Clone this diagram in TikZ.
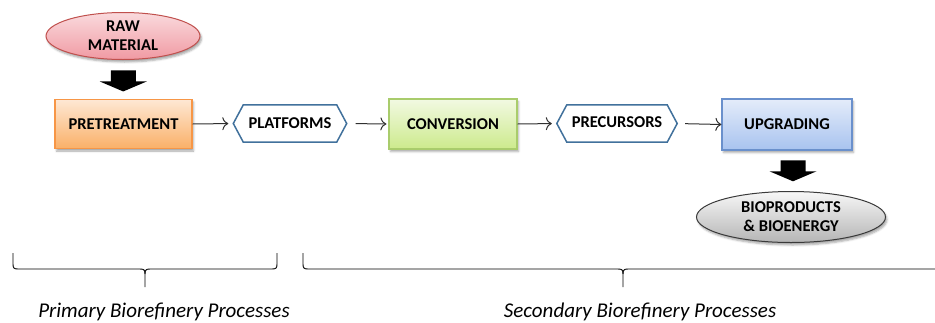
\documentclass[tikz,border=0pt]{standalone}
\usepackage{fontspec}
\setmainfont{Carlito}
\usetikzlibrary{shapes.geometric,shadows.blur,calc,arrows.meta}
\definecolor{rawtop}{HTML}{FADADD}
\definecolor{rawbot}{HTML}{F09AA3}
\definecolor{rawline}{HTML}{C0504D}
\definecolor{pretop}{HTML}{FEE8D4}
\definecolor{prebot}{HTML}{FAB068}
\definecolor{preline}{HTML}{F79646}
\definecolor{contop}{HTML}{F2F9E2}
\definecolor{conbot}{HTML}{CCEA8C}
\definecolor{conline}{HTML}{A9CC6C}
\definecolor{upgtop}{HTML}{E4ECFA}
\definecolor{upgbot}{HTML}{A8C3EF}
\definecolor{upgline}{HTML}{6A90CC}
\definecolor{hexline}{HTML}{41719C}
\definecolor{biotop}{HTML}{F7F7F7}
\definecolor{biobot}{HTML}{B5B5B5}
\definecolor{bioline}{HTML}{3A3A3A}
\definecolor{conn}{HTML}{303030}
\tikzset{
  lbl/.style={font=\fontsize{16.5}{19}\selectfont\bfseries, align=center, text=black, inner sep=0pt},
  shad/.style={blur shadow={shadow xshift=1.5pt, shadow yshift=-2.5pt, shadow blur radius=2pt, shadow opacity=35}},
  procbox/.style={lbl, rectangle, draw, line width=1.2pt, shad},
  oval/.style={lbl, ellipse, draw, line width=1pt, shad},
  hexbox/.style={lbl, rectangle, draw=none},
  hexedge/.style={draw=hexline, line width=1.5pt, fill=white, line join=miter},
  flow/.style={draw=conn, line width=1pt, -{To[length=6pt,width=13pt]}},
  bigarrow/.style={fill=black, draw=none},
  brace/.style={draw=black, line width=0.9pt},
  caption/.style={font=\fontsize{21}{24}\selectfont\itshape, inner sep=0pt}
}
\begin{document}
\begin{tikzpicture}[x=1pt,y=-1pt]
\useasboundingbox (0,0) rectangle (935,322);

% nodes
\node[oval, minimum width=154pt, minimum height=47pt, top color=rawtop, bottom color=rawbot, draw=rawline] (raw) at (123,36) {RAW\\MATERIAL};
\node[procbox, minimum width=137pt, minimum height=49pt, top color=pretop, bottom color=prebot, draw=preline] (pre) at (123.5,124) {PRETREATMENT};
\node[hexbox, minimum width=113pt, minimum height=37pt] (plat) at (290,123.5) {};
\node[procbox, minimum width=128pt, minimum height=50pt, top color=contop, bottom color=conbot, draw=conline] (conv) at (453,124) {CONVERSION};
\node[hexbox, minimum width=120pt, minimum height=37pt] (prec) at (617,123.5) {};
\node[procbox, minimum width=130pt, minimum height=51pt, top color=upgtop, bottom color=upgbot, draw=upgline] (upg) at (787,124.5) {UPGRADING};
\node[oval, minimum width=189pt, minimum height=51pt, top color=biotop, bottom color=biobot, draw=bioline] (bio) at (791,217) {BIOPRODUCTS\\\& BIOENERGY};

% hexagon outlines
\path[hexedge] (plat.west) -- ($(plat.north west)+(10,0)$) -- ($(plat.north east)+(-10,0)$) -- (plat.east) -- ($(plat.south east)+(-10,0)$) -- ($(plat.south west)+(10,0)$) -- cycle;
\node[lbl] at (plat) {PLATFORMS};
\path[hexedge] (prec.west) -- ($(prec.north west)+(10,0)$) -- ($(prec.north east)+(-10,0)$) -- (prec.east) -- ($(prec.south east)+(-10,0)$) -- ($(prec.south west)+(10,0)$) -- cycle;
\node[lbl] at ($(prec)+(0,-1.5)$) {PRECURSORS};

% thin flow arrows
\draw[flow, shorten >=5pt] (pre.east) -- (plat.west);
\draw[flow, shorten <=9pt, shorten >=2pt] (plat.east) -- (conv.west);
\draw[flow, shorten >=5pt] (conv.east) -- (prec.west);
\draw[flow, shorten <=8pt] (prec.east) -- (upg.west);

% block arrows
\coordinate (a1) at ($(raw.south)!0.5!(pre.north)+(0,1.5)$);
\path[bigarrow] ($(a1)+(-12.5,-10.5)$) -- ($(a1)+(12.5,-10.5)$) -- ($(a1)+(12.5,0.5)$) -- ($(a1)+(23.5,0.5)$) -- ($(a1)+(0,10.5)$) -- ($(a1)+(-23.5,0.5)$) -- ($(a1)+(-12.5,0.5)$) -- cycle;
\coordinate (a2) at ($(upg.south)!0.5!(bio.north)+(4,0)$);
\path[bigarrow] ($(a2)+(-12.5,-10.5)$) -- ($(a2)+(12.5,-10.5)$) -- ($(a2)+(12.5,0.5)$) -- ($(a2)+(23.5,0.5)$) -- ($(a2)+(0,10.5)$) -- ($(a2)+(-23.5,0.5)$) -- ($(a2)+(-12.5,0.5)$) -- cycle;

% braces
\draw[brace] (13,253) -- (13,264) .. controls (13,268) and (14,269) .. (18,269) -- (140,269) .. controls (144,269) and (145,270) .. (145,274) -- (145,287);
\draw[brace] (145,274) .. controls (145,270) and (146,269) .. (150,269) -- (272,269) .. controls (276,269) and (277,268) .. (277,264) -- (277,253);
\draw[brace] (303,253) -- (303,264) .. controls (303,268) and (304,269) .. (308,269) -- (618,269) .. controls (622,269) and (623,270) .. (623,274) -- (623,287);
\draw[brace] (623,274) .. controls (623,270) and (624,269) .. (628,269) -- (935,269);

% captions
\node[caption] (cap1) at (164,312) {Primary Biorefinery Processes};
\node[caption] (cap2) at (640,312) {Secondary Biorefinery Processes};
\end{tikzpicture}
\end{document}
